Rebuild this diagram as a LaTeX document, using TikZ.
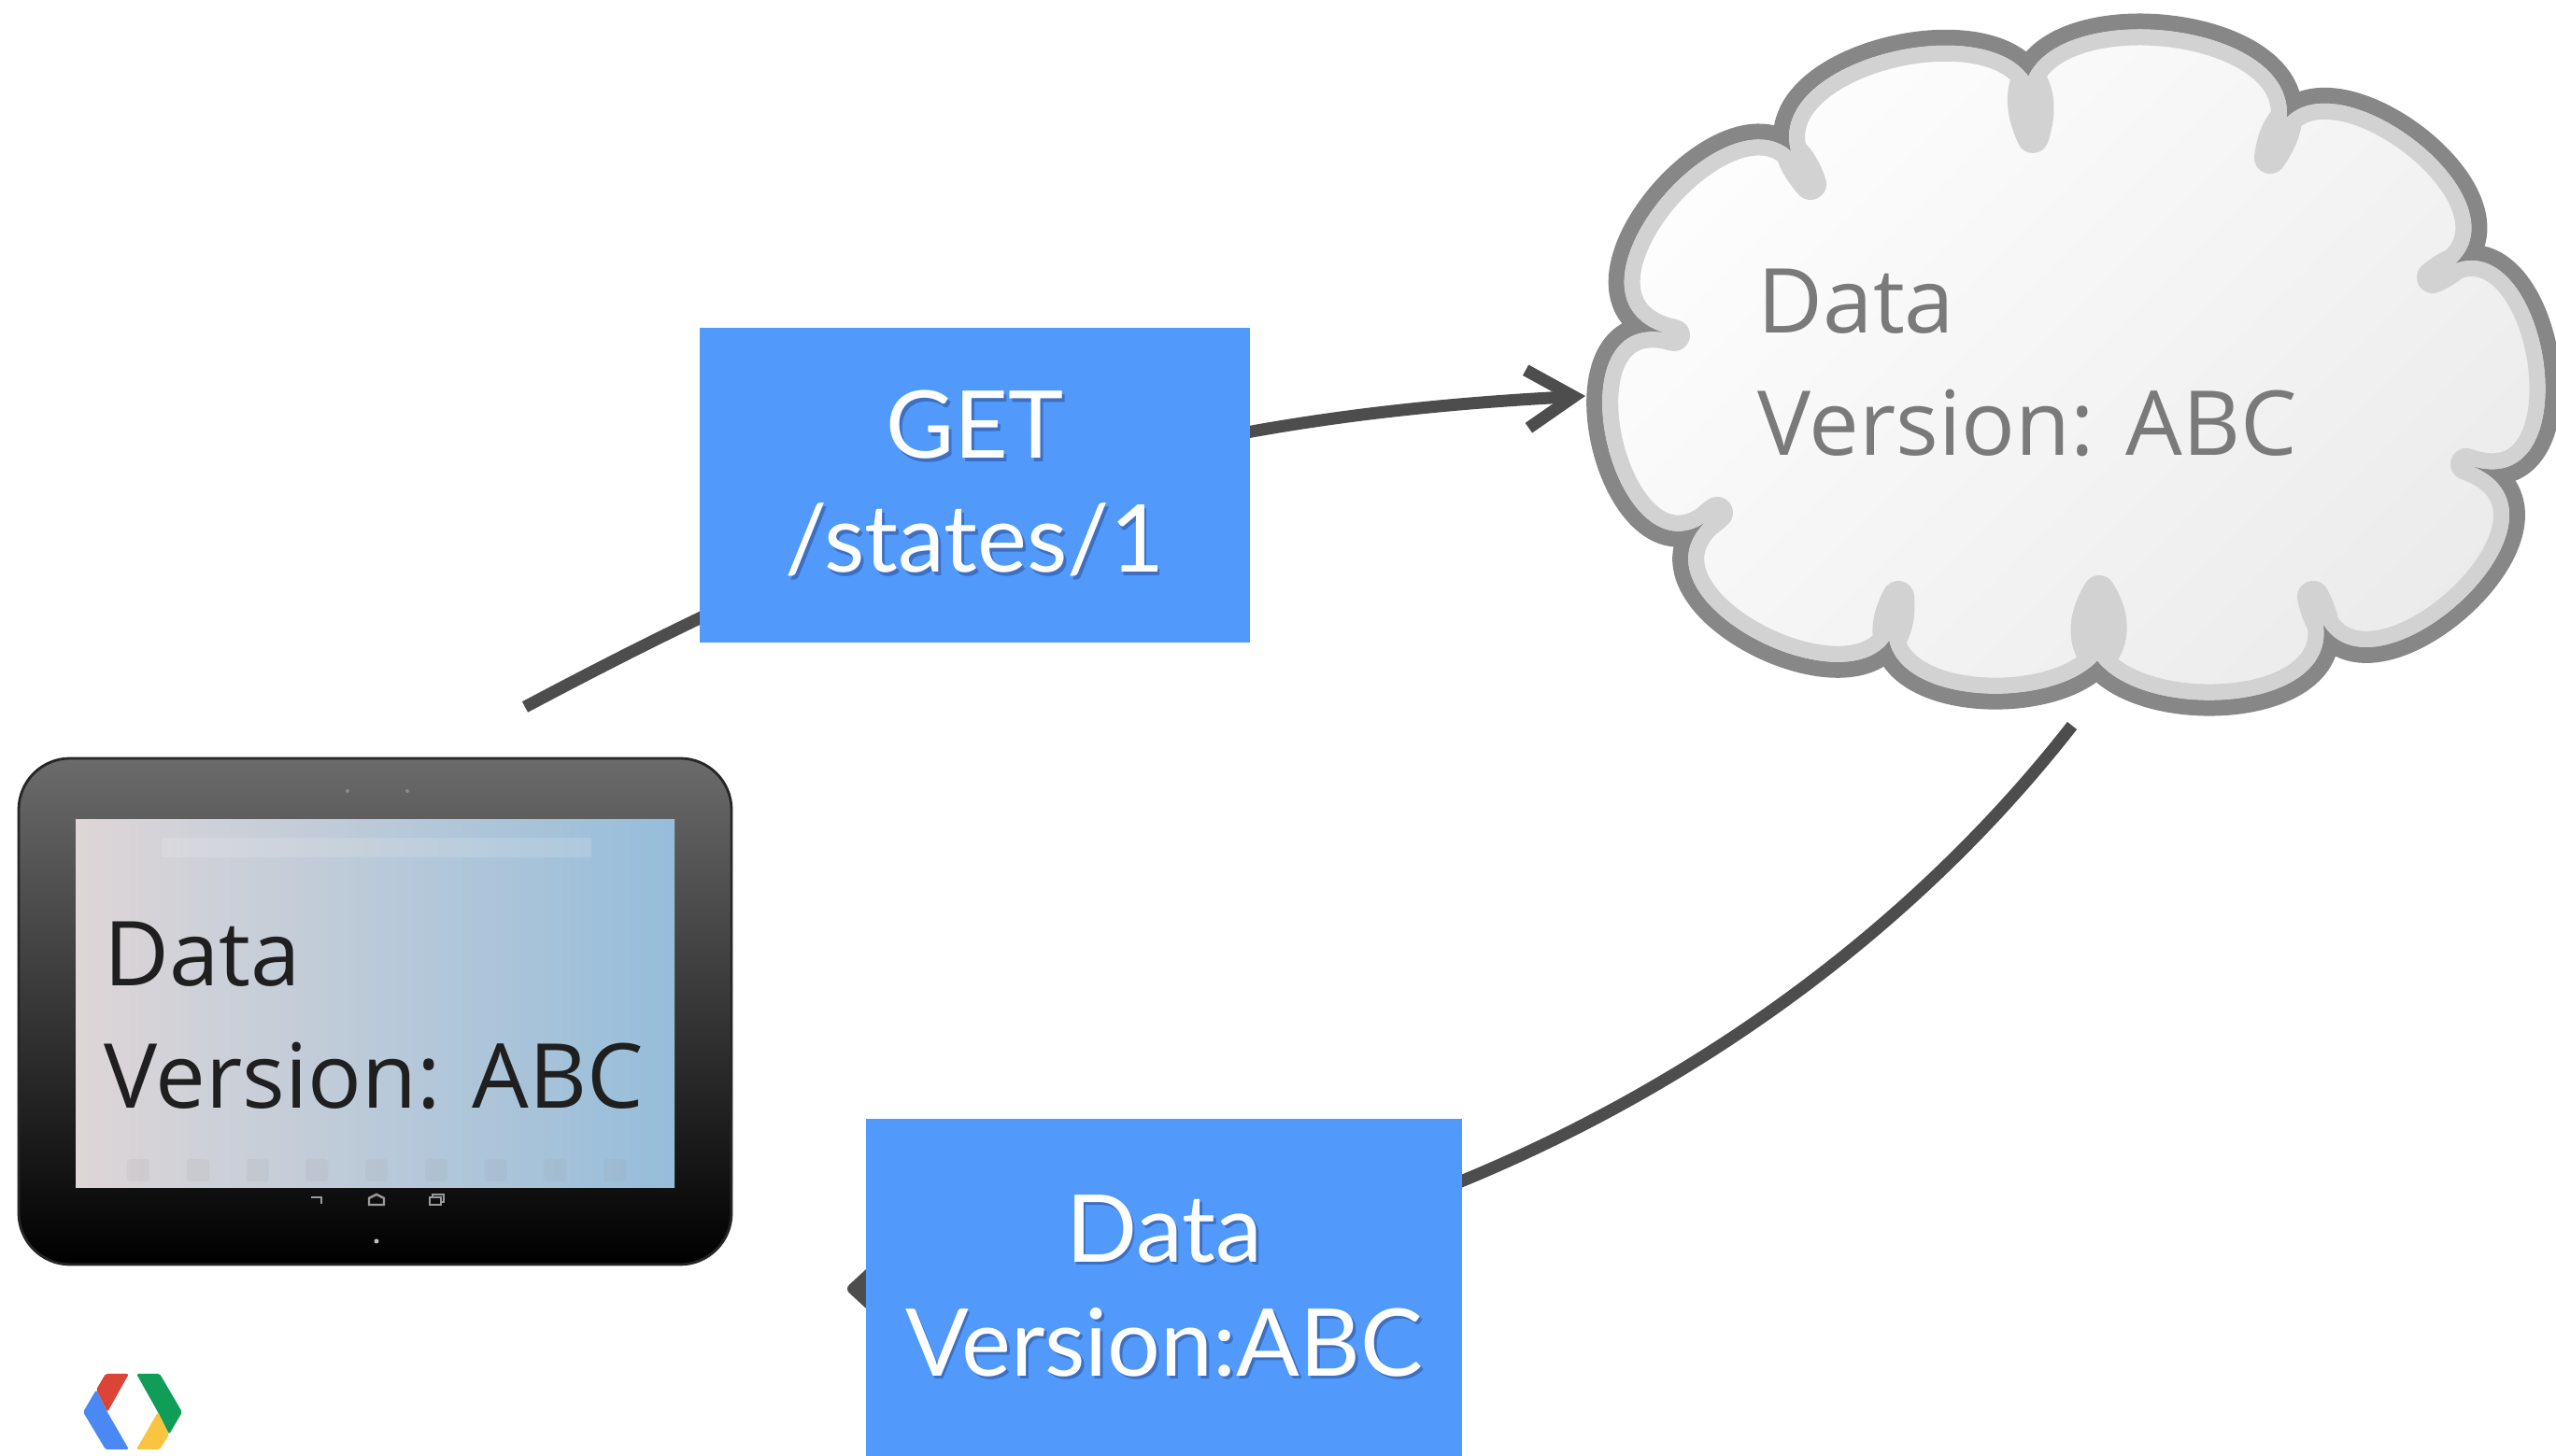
\documentclass[tikz,border=0pt]{standalone}
\usepackage{fontspec}
\usepackage{xcolor}
\usepackage{tikz}
\usetikzlibrary{arrows.meta,positioning,calc,shapes.geometric}

\newfontfamily\slidefont{Open Sans}
\newfontfamily\boxfont{Lato}

\definecolor{msgblue}{HTML}{519AFB}
\definecolor{msgshadow}{HTML}{3D70C2}
\definecolor{arrowgray}{HTML}{4D4D4D}
\definecolor{rimdark}{HTML}{878787}
\definecolor{rimlight}{HTML}{D2D2D2}
\definecolor{cloudtxt}{HTML}{7A7A7A}
\definecolor{screenpink}{HTML}{DED6D7}
\definecolor{screenblue}{HTML}{96BDDA}
\definecolor{gred}{HTML}{DB4437}
\definecolor{gblue}{HTML}{4A89F3}
\definecolor{ggreen}{HTML}{0F9D58}
\definecolor{gyellow}{HTML}{F9C440}

% white text on the blue boxes gets a soft drop shadow
\newcommand{\dropshadow}[1]{\rlap{\kern0.8pt\raisebox{-1pt}{\textcolor{msgshadow}{#1}}}#1}

\tikzset{
  msgbox/.style={rectangle, fill=msgblue, text=white, align=center, inner sep=0pt,
    font=\boxfont\fontsize{28.5}{34.7}\selectfont},
  flow/.style={draw=arrowgray, line width=3.7pt},
  slidetext/.style={anchor=base west, align=left, inner sep=0pt,
    font=\slidefont\fontsize{27.3}{37.3}\selectfont},
  puff/.style={bend left=120, looseness=1.95},
  navkey/.style={draw=black!40, line width=0.7pt},
}

% outline of the server cloud, one puff between two notches
\newcommand{\cloudpath}{(n1) to[puff] (n2) to[puff] (n3) to[puff] (n4) to[puff] (n5)
  to[puff] (n6) to[puff] (n7) to[puff] (n8) to[puff] (n9) to[puff] (n10) to[puff] (n1) -- cycle}

\begin{document}
\begin{tikzpicture}
\useasboundingbox[fill=white] (0,0) rectangle (27.36,15.59);

% tablet
\shade[top color=black!58, bottom color=black, draw=black!85, line width=0.8pt,
  rounded corners=0.55cm] (0.20,2.05) rectangle (7.83,7.47);
\shade[left color=screenpink, right color=screenblue] (0.81,2.87) rectangle (7.22,6.81);
\fill[white, opacity=0.14] (1.73,6.41) rectangle (6.33,6.62);
\foreach \i in {0,...,8}
  \fill[black!40, opacity=0.12, rounded corners=1pt] ({1.36+0.6375*\i},2.94) rectangle +(0.24,0.24);
\fill[black!45] (3.72,7.12) circle (0.02);
\fill[black!45] (4.36,7.12) circle (0.02);
\fill[black!25] (4.03,2.30) circle (0.025);
\draw[navkey] (3.44,2.70) -- (3.44,2.77) -- (3.33,2.77);
\draw[navkey] (3.95,2.69) -- (3.95,2.76) -- (4.03,2.80) -- (4.11,2.76) -- (4.11,2.69) -- cycle;
\draw[navkey] (4.60,2.69) rectangle (4.72,2.77);
\draw[navkey] (4.63,2.77) -- (4.63,2.80) -- (4.75,2.80) -- (4.75,2.72) -- (4.72,2.72);
\node[slidetext, text=black!88] (tabletData) at (1.11,3.72) {Data\\Version: ABC};

% server cloud
\coordinate (n1) at (17.92,12.00);
\coordinate (n2) at (19.38,13.62);
\coordinate (n3) at (21.76,14.12);
\coordinate (n4) at (24.30,13.90);
\coordinate (n5) at (26.04,12.62);
\coordinate (n6) at (26.40,10.62);
\coordinate (n7) at (24.76,9.20);
\coordinate (n8) at (22.47,9.26);
\coordinate (n9) at (20.32,9.20);
\coordinate (n10) at (18.38,10.10);
\draw[draw=rimdark, line width=0.34cm, line join=round] \cloudpath;
\shade[top color=white, bottom color=black!8, shading angle=45] \cloudpath;
\begin{scope}
  \clip \cloudpath;
  \draw[draw=rimlight, line width=0.34cm, line join=round] \cloudpath;
\end{scope}
\node[slidetext, text=cloudtxt] (cloudData) at (18.81,10.71) {Data\\Version: ABC};

% request and response
\coordinate (syncStart) at (5.62,8.02);
\coordinate (cloudIn) at (16.97,11.35);
\coordinate (cloudOut) at (22.18,7.82);
\coordinate (backTip) at (9.07,1.79);
\draw[flow, -{Straight Barb[length=0.5cm, width=0.62cm, line cap=butt, line join=miter]}]
  (syncStart) to[out=28, in=183] (cloudIn);
\draw[flow, -{Triangle[length=0.45cm, width=0.8cm, round]}]
  (cloudOut) .. controls (19.9,4.9) and (16.5,2.9) .. (13.0,2.1) to[out=193, in=0] (backTip);

\node[msgbox, minimum width=5.89cm, minimum height=3.37cm] (getReq) at (10.435,10.395)
  {\dropshadow{GET}\\\dropshadow{/states/1}};
\node[msgbox, anchor=north, minimum width=6.38cm, minimum height=3.62cm] (dataResp) at (12.46,3.62)
  {\dropshadow{Data}\\\dropshadow{Version:ABC}};

% developers logo
\fill[gred, rounded corners=0.5pt] (1.13,0.88) -- (1.38,0.88) -- (1.15,0.47) -- (1.03,0.71) -- cycle;
\fill[gblue, rounded corners=0.5pt] (1.03,0.71) -- (0.89,0.47) -- (1.13,0.07) -- (1.38,0.07) -- (1.15,0.47) -- cycle;
\fill[ggreen, rounded corners=0.5pt] (1.46,0.88) -- (1.71,0.88) -- (1.95,0.47) -- (1.81,0.23) -- (1.69,0.47) -- cycle;
\fill[gyellow, rounded corners=0.5pt] (1.69,0.47) -- (1.81,0.23) -- (1.71,0.07) -- (1.46,0.07) -- cycle;
\end{tikzpicture}
\end{document}
